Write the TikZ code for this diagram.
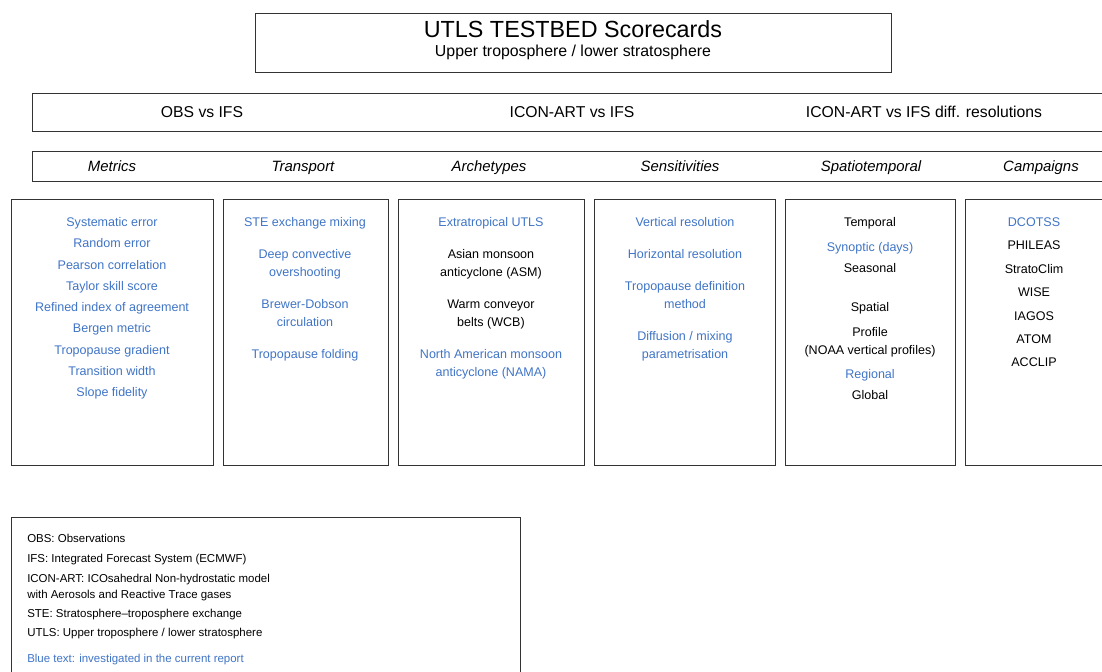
\documentclass[tikz,border=0pt]{standalone}
\usepackage{fontspec}
\setmainfont{Liberation Sans}
\usepackage{xcolor}
\definecolor{repblue}{HTML}{3F74C6}
\tikzset{
  frame/.style = {draw=black!80, line width=0.65pt},
  item/.style  = {font=\fontsize{9.4}{11}\selectfont, inner sep=0pt,
                  text height=0.95em, text depth=0.15em},
  done/.style  = {item, text=repblue},
  head/.style  = {font=\fontsize{11.8}{14}\selectfont, inner sep=0pt,
                  text height=0.95em, text depth=0.15em},
  topic/.style = {font=\fontsize{11.2}{13}\selectfont\itshape, inner sep=0pt,
                  text height=0.95em, text depth=0.15em},
  gloss/.style = {font=\fontsize{8.6}{10}\selectfont, anchor=west, inner sep=0pt,
                  text height=0.95em, text depth=0.15em}
}

\begin{document}
\begin{tikzpicture}[x=0.75pt, y=-0.75pt]
\useasboundingbox (0,0) rectangle (1102,671);
\clip (0,0) rectangle (1102,671);

% Title
\draw[frame] (255,13) rectangle (891,72);
\node[inner sep=0pt, font=\fontsize{17.5}{20}\selectfont] (title) at (573,29) {UTLS TESTBED Scorecards};
\node[inner sep=0pt, font=\fontsize{11.9}{14}\selectfont] (subtitle) at (573,52) {Upper troposphere / lower stratosphere};

% Comparisons
\draw[frame] (32,93) rectangle (1115,131);
\node[head] (obsifs) at (202,112) {OBS vs IFS};
\node[head] (iconifs) at (572,112) {ICON-ART vs IFS};
\node[head] (iconres) at (924,112) {ICON-ART vs IFS diff. resolutions};

% Topics
\draw[frame] (32,151) rectangle (1115,181);
\node[topic] (metrics) at (112,166) {Metrics};
\node[topic] (transport) at (303,166) {Transport};
\node[topic] (archetypes) at (489,166) {Archetypes};
\node[topic] (sensitivities) at (680,166) {Sensitivities};
\node[topic] (spatiotemporal) at (871,166) {Spatiotemporal};
\node[topic] (campaigns) at (1041,166) {Campaigns};

% Metrics
\draw[frame] (11,199) rectangle (213,465);
\node[done] (syserr) at (112,221) {Systematic error};
\node[done] (randerr) at (112,242) {Random error};
\node[done] (pearson) at (112,264) {Pearson correlation};
\node[done] (taylor) at (112,285) {Taylor skill score};
\node[done] (refined) at (112,306) {Refined index of agreement};
\node[done] (bergen) at (112,327) {Bergen metric};
\node[done] (tpgrad) at (112,349) {Tropopause gradient};
\node[done] (transw) at (112,370) {Transition width};
\node[done] (slope) at (112,391) {Slope fidelity};

% Transport
\draw[frame] (223,199) rectangle (388,465);
\node[done] (ste) at (305,221) {STE exchange mixing};
\node[done] (deep) at (305,253) {Deep convective};
\node[done] (deepb) at (305,271) {overshooting};
\node[done] (bd) at (305,303) {Brewer-Dobson};
\node[done] (bdb) at (305,321) {circulation};
\node[done] (fold) at (305,353) {Tropopause folding};

% Archetypes
\draw[frame] (398,199) rectangle (584,465);
\node[done] (extra) at (491,221) {Extratropical UTLS};
\node[item] (asm) at (491,253) {Asian monsoon};
\node[item] (asmb) at (491,271) {anticyclone (ASM)};
\node[item] (wcb) at (491,303) {Warm conveyor};
\node[item] (wcbb) at (491,321) {belts (WCB)};
\node[done] (nama) at (491,353) {North American monsoon};
\node[done] (namab) at (491,371) {anticyclone (NAMA)};

% Sensitivities
\draw[frame] (594,199) rectangle (775,465);
\node[done] (vres) at (685,221) {Vertical resolution};
\node[done] (hres) at (685,253) {Horizontal resolution};
\node[done] (tpdef) at (685,285) {Tropopause definition};
\node[done] (tpdefb) at (685,303) {method};
\node[done] (diff) at (685,335) {Diffusion / mixing};
\node[done] (diffb) at (685,353) {parametrisation};

% Spatiotemporal
\draw[frame] (785,199) rectangle (955,465);
\node[item] (temporal) at (870,221) {Temporal};
\node[done] (synoptic) at (870,246) {Synoptic (days)};
\node[item] (seasonal) at (870,267) {Seasonal};
\node[item] (spatial) at (870,306) {Spatial};
\node[item] (profile) at (870,331) {Profile};
\node[item] (profileb) at (870,349) {(NOAA vertical profiles)};
\node[done] (regional) at (870,373) {Regional};
\node[item] (global) at (870,394) {Global};

% Campaigns
\draw[frame] (965,199) rectangle (1115,465);
\node[done] (dcotss) at (1034,221) {DCOTSS};
\node[item] (phileas) at (1034,244) {PHILEAS};
\node[item] (stratoclim) at (1034,268) {StratoClim};
\node[item] (wise) at (1034,291) {WISE};
\node[item] (iagos) at (1034,315) {IAGOS};
\node[item] (atom) at (1034,338) {ATOM};
\node[item] (acclip) at (1034,361) {ACCLIP};

% Legend
\draw[frame] (11,517) rectangle (520,690);
\node[gloss] (gobs) at (27,537) {OBS: Observations};
\node[gloss] (gifs) at (27,557) {IFS: Integrated Forecast System (ECMWF)};
\node[gloss] (gicon) at (27,577) {ICON-ART: ICOsahedral Non-hydrostatic model};
\node[gloss] (giconb) at (27,593) {with Aerosols and Reactive Trace gases};
\node[gloss] (gste) at (27,612) {STE: Stratosphere--troposphere exchange};
\node[gloss] (gutls) at (27,631) {UTLS: Upper troposphere / lower stratosphere};
\node[gloss, text=repblue] (gblue) at (27,657) {Blue text: investigated in the current report};

\end{tikzpicture}
\end{document}
